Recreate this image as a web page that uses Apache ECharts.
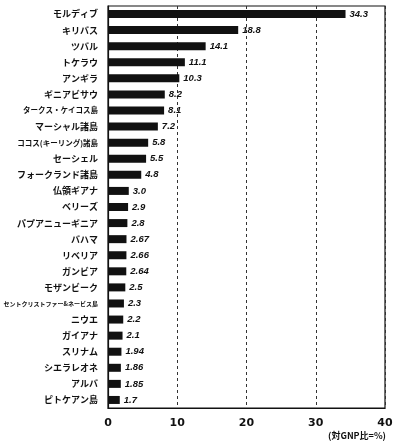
<!DOCTYPE html>
<html><head><meta charset="utf-8">
<script src="https://cdn.jsdelivr.net/npm/echarts@6/dist/echarts.min.js"></script>
<style>html,body{margin:0;padding:0;background:#fff}#c{width:400px;height:448px}</style>
</head><body><div id="c"></div>
<script>
const categories = ["モルディブ","キリバス","ツバル","トケラウ","アンギラ","ギニアビサウ","タークス・ケイコス島","マーシャル諸島","ココス(キーリング)諸島","セーシェル","フォークランド諸島","仏領ギアナ","ベリーズ","パプアニューギニア","バハマ","リベリア","ガンビア","モザンビーク","セントクリストファー&ネービス島","ニウエ","ガイアナ","スリナム","シエラレオネ","アルバ","ピトケアン島"];
const values = [34.3,18.8,14.1,11.1,10.3,8.2,8.1,7.2,5.8,5.5,4.8,3.0,2.9,2.8,2.67,2.66,2.64,2.5,2.3,2.2,2.1,1.94,1.86,1.85,1.7];
const valueLabels = ["34.3","18.8","14.1","11.1","10.3","8.2","8.1","7.2","5.8","5.5","4.8","3.0","2.9","2.8","2.67","2.66","2.64","2.5","2.3","2.2","2.1","1.94","1.86","1.85","1.7"];
const xTicks = [0,10,20,30,40];
const smallLabels = {"セントクリストファー&ネービス島":"xs","タークス・ケイコス島":"s","ココス(キーリング)諸島":"s"};
const font = "'Noto Sans CJK JP', sans-serif";
const chart = echarts.init(document.getElementById('c'));
chart.setOption({
  animation:false,
  textStyle:{fontFamily:font},
  grid:{left:108,right:15,top:6,bottom:40,show:true,borderColor:'#111',borderWidth:1.2,containLabel:false},
  xAxis:{type:'value',min:xTicks[0],max:xTicks[xTicks.length-1],interval:10,
    axisLine:{show:true,lineStyle:{color:'#111',width:1.2}},axisTick:{show:false},
    axisLabel:{color:'#111',fontWeight:'bold',fontSize:11,margin:10,fontFamily:'DejaVu Sans'},
    splitLine:{show:true,lineStyle:{color:'#333',type:[3,3],width:1}}},
  yAxis:{type:'category',data:categories,inverse:true,
    axisLine:{show:true,lineStyle:{color:'#111',width:1.2}},axisTick:{show:false},
    axisLabel:{color:'#111',fontWeight:'bold',fontSize:9,margin:10,
      formatter:function(v){const s=smallLabels[v];return s?('{'+s+'|'+v+'}'):v;},
      rich:{s:{fontSize:7.5,fontWeight:'bold',color:'#111',fontFamily:font},xs:{fontSize:6,fontWeight:'bold',color:'#111',fontFamily:font}}}},
  series:[{type:'bar',data:values,barWidth:8,itemStyle:{color:'#111'},
    label:{show:true,position:'right',distance:4,color:'#111',fontSize:9.5,fontStyle:'italic',fontWeight:'bold',fontFamily:'Liberation Sans',
      formatter:function(p){return valueLabels[p.dataIndex];}}}],
  graphic:[{type:'text',right:14,top:431,style:{text:'(対GNP比=%)',fontSize:9,fontWeight:'bold',fill:'#111',fontFamily:font}}]
});
</script></body></html>
